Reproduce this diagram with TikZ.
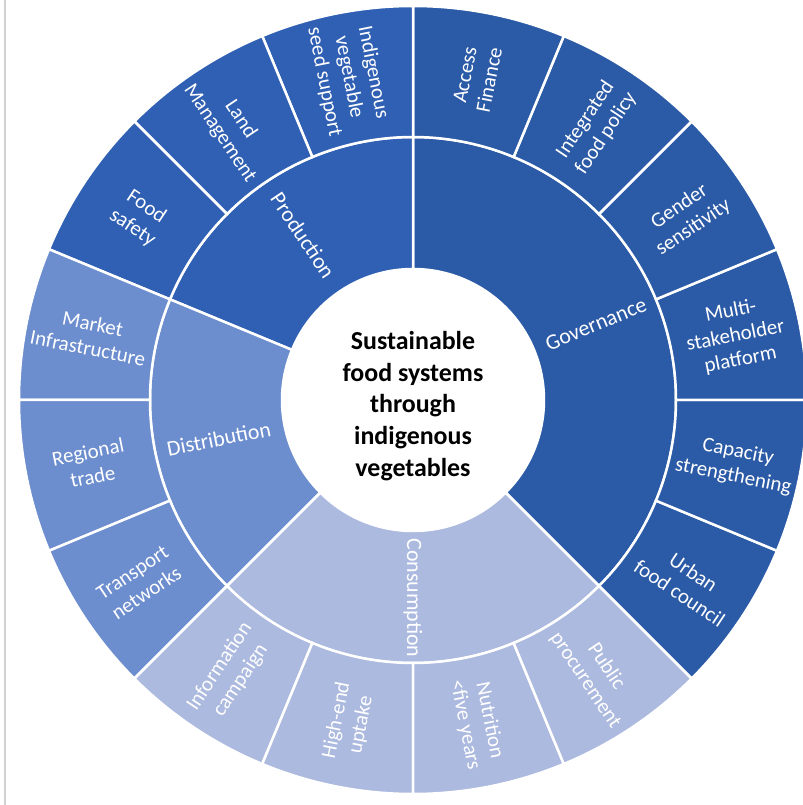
\documentclass[tikz,border=0pt]{standalone}
\usepackage{fontspec}
\setmainfont{Carlito}
\usetikzlibrary{math}
\definecolor{govblue}{HTML}{2B5AA6}
\definecolor{problue}{HTML}{3060B4}
\definecolor{disblue}{HTML}{6C8DCE}
\definecolor{conblue}{HTML}{ADBADF}
\tikzset{
    wedge/.style={draw=white,line width=2.5bp},
    leaf/.style={text=white,align=center,font=\fontsize{21}{25}\selectfont},
    branch/.style={text=white,align=center,font=\fontsize{22}{26}\selectfont},
    hub/.style={text=black,align=center,font=\bfseries\fontsize{26}{32}\selectfont}
}
\newcommand\Wedge[5]{%
    \filldraw[wedge,fill=#5] (#1:#3) arc[start angle=#1,end angle=#2,radius=#3]
        -- (#2:#4) arc[start angle=#2,end angle=#1,radius=#4] -- cycle;%
}

\begin{document}
\begin{tikzpicture}[x=1bp,y=1bp]
\useasboundingbox (-413,-405) rectangle (390,400);
\clip (-413,-405) rectangle (390,400);
\draw[gray!35,line width=2bp] (-408,400) -- (-408,-405);
\foreach \a/\b/\c in {-45/90/govblue,90/157.5/problue,157.5/225/disblue,225/315/conblue}
    \Wedge{\a}{\b}{131}{263}{\c};
\foreach \c [count=\i from 0] in {govblue,govblue,govblue,govblue,govblue,govblue,
        problue,problue,problue,disblue,disblue,disblue,conblue,conblue,conblue,conblue}
    \Wedge{-45+22.5*\i}{-22.5+22.5*\i}{263}{394}{\c};
\foreach \n/\t [count=\i from 0] in {
        urban/{Urban\\food council},
        capacity/{Capacity\\strengthening},
        platform/{Multi-\\stakeholder\\platform},
        gender/{Gender\\sensitivity},
        policy/{Integrated\\food policy},
        finance/{Access\\Finance},
        seed/{Indigenous\\vegetable\\seed support},
        land/{Land\\Management},
        safety/{Food\\safety},
        market/{Market\\Infrastructure},
        trade/{Regional\\trade},
        transport/{Transport\\networks},
        campaign/{Information\\campaign},
        uptake/{High-end\\uptake},
        nutrition/{Nutrition\\<five years},
        procurement/{Public\\procurement}} {
    \tikzmath{\m = -33.75 + 22.5*\i; \r = (\m > 90 && \m < 270) ? \m - 180 : \m;}
    \node[leaf,rotate=\r] (\n) at (\m:329) {\t};
}
\foreach \n/\t/\m in {governance/Governance/22.5,production/Production/123.75,
        distribution/Distribution/191.25,consumption/Consumption/270} {
    \tikzmath{\r = (\m > 90 && \m < 270) ? \m - 180 : \m;}
    \node[branch,rotate=\r] (\n) at (\m:198) {\t};
}
\node[hub] (centre) at (0,-6) {Sustainable\\food systems\\through\\indigenous\\vegetables};
\end{tikzpicture}
\end{document}
